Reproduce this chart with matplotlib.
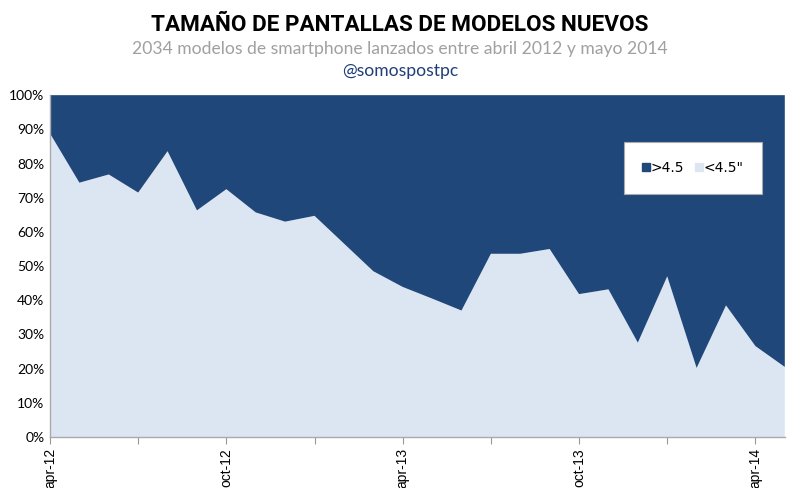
import numpy as np
import matplotlib
matplotlib.use('Agg')
from matplotlib import pyplot as plt
from matplotlib.lines import Line2D
from matplotlib.ticker import FuncFormatter, MultipleLocator

# monthly share of new models, apr-12 .. may-14
months = ['apr-12', 'may-12', 'jun-12', 'jul-12', 'aug-12', 'sep-12',
          'oct-12', 'nov-12', 'dec-12', 'jan-13', 'feb-13', 'mar-13',
          'apr-13', 'may-13', 'jun-13', 'jul-13', 'aug-13', 'sep-13',
          'oct-13', 'nov-13', 'dec-13', 'jan-14', 'feb-14', 'mar-14',
          'apr-14', 'may-14']
small = [88.8, 74.4, 76.8, 71.5, 83.6, 66.3, 72.5, 65.7, 63.0, 64.7,
         56.6, 48.5, 43.9, 40.5, 37.0, 53.6, 53.6, 55.0, 41.8, 43.2,
         27.6, 47.0, 20.2, 38.5, 26.6, 20.5]
big = [100 - v for v in small]

DARK = '#1f477a'
LIGHT = '#dce6f2'

fig = plt.figure(figsize=(8, 4.88), dpi=100)
ax = fig.add_axes([0.0625, 0.1045, 0.9185, 0.7005])

x = np.arange(len(months))
ax.stackplot(x, small, big, colors=[LIGHT, DARK], lw=0)

ax.set_xlim(0, len(months) - 1)
ax.set_ylim(0, 100)
ax.yaxis.set_major_locator(MultipleLocator(10))
ax.yaxis.set_major_formatter(FuncFormatter(lambda v, p: '%d%%' % v))

ax.set_xticks(x[::3])
ax.set_xticklabels([m if i % 6 == 0 else '' for i, m in enumerate(months)][::3],
                   rotation=90, family='Liberation Sans', fontsize=10)
ax.tick_params(axis='x', direction='out', length=5, color='#999999', pad=3)
ax.tick_params(axis='y', length=0, labelsize=10, pad=4)
for lab in ax.get_yticklabels():
    lab.set_family('Lato')

for s in ('top', 'right'):
    ax.spines[s].set_visible(False)
for s in ('left', 'bottom'):
    ax.spines[s].set_color('#aaaaaa')
    ax.spines[s].set_linewidth(1)

handles = [Line2D([], [], ls='', marker='s', ms=5.5, color=DARK),
           Line2D([], [], ls='', marker='s', ms=5.5, color=LIGHT)]
leg = ax.legend(handles, ['>4.5', '<4.5"'], ncol=2, loc='center',
                bbox_to_anchor=(0.875, 0.787), frameon=True, fancybox=False,
                framealpha=1, edgecolor='#aaaaaa', handlelength=0.5,
                handletextpad=0.1, columnspacing=0.8, borderpad=1.35,
                borderaxespad=0, prop={'family': 'DejaVu Sans', 'size': 10})
leg.get_frame().set_linewidth(0.8)

fig.text(0.5, 0.949, 'TAMAÑO DE PANTALLAS DE MODELOS NUEVOS', ha='center',
         va='center', fontsize=16.2, fontweight='bold', family='Roboto')
fig.text(0.5, 0.900, '2034 modelos de smartphone lanzados entre abril 2012 y mayo 2014',
         ha='center', va='center', fontsize=12.6, color='#a0a0a0', family='Lato')
fig.text(0.5, 0.854, '@somospostpc', ha='center', va='center', fontsize=12.6,
         color='#1f3f7a', family='Lato')

fig.savefig('out.png', dpi=100)
